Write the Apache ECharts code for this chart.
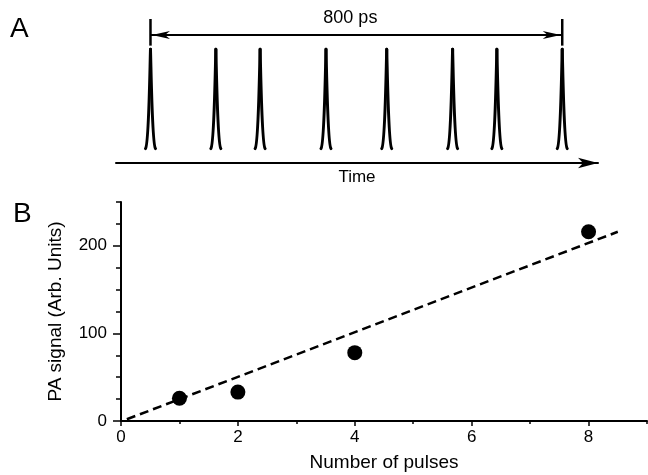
<!DOCTYPE html>
<html>
<head>
<meta charset="utf-8">
<script src="https://cdn.jsdelivr.net/npm/echarts@6/dist/echarts.min.js"></script>
<style>
html, body {margin: 0; padding: 0; background: #fff;}
#chart {width: 648px; height: 475px;}
</style>
</head>
<body>
<div id="chart"></div>
<script>
// panel A: pulse train (time in ps)
const pulseTimes = [0, 127, 213, 341, 459, 587, 673, 800];
const pulsePeak = 0.79;
const pulseBase = 0.1;
const spanStart = 0;
const spanEnd = 800;
const spanLevel = 0.889;
const spanBarLow = 0.815;
const spanBarHigh = 1.0;
const spanLabel = '800 ps';

// panel B: PA signal vs number of pulses
const nPulses = [1, 2, 4, 8];
const paSignal = [26, 33, 78, 216];
const fitX = [0.1, 8.5];
const fitY = [2, 216];
const xTickLabels = [0, 2, 4, 6, 8];
const yTickLabels = [0, 100, 200];

const font = 'Liberation Sans, Arial, Helvetica, sans-serif';

function renderPulse(params, api) {
    let top = api.coord([api.value(0), api.value(1)]);
    let base = api.coord([api.value(0), pulseBase]);
    let cx = top[0];
    let h = base[1] - top[1];
    let side = function (dir) {
        return {
            type: 'bezierCurve',
            shape: {
                x1: cx + dir * 5, y1: base[1],
                cpx1: cx + dir * 1.8, cpy1: base[1] - 4,
                cpx2: cx + dir * 1.0, cpy2: top[1] + h * 0.4,
                x2: cx, y2: top[1]
            },
            style: {stroke: '#000', lineWidth: 3, fill: null, lineCap: 'round'}
        };
    };
    return {type: 'group', children: [side(-1), side(1)]};
}

function renderSpan(params, api) {
    let a = api.coord([api.value(0), api.value(2)]);
    let b = api.coord([api.value(1), api.value(2)]);
    let lo = api.coord([0, spanBarLow])[1];
    let hi = api.coord([0, spanBarHigh])[1];
    let y = a[1];
    let head = function (x, dir) {
        return {
            type: 'polygon',
            shape: {points: [[x, y], [x + dir * 18, y - 4], [x + dir * 13, y], [x + dir * 18, y + 4]]},
            style: {fill: '#000'}
        };
    };
    let bar = function (x) {
        return {type: 'line', shape: {x1: x, y1: lo, x2: x, y2: hi}, style: {stroke: '#000', lineWidth: 2.5}};
    };
    return {
        type: 'group',
        children: [
            {type: 'line', shape: {x1: a[0], y1: y, x2: b[0], y2: y}, style: {stroke: '#000', lineWidth: 2}},
            head(a[0] + 1.5, 1),
            head(b[0] - 1.5, -1),
            bar(a[0]),
            bar(b[0]),
            {
                type: 'text',
                x: (a[0] + b[0]) / 2 - 6,
                y: y - 8,
                style: {text: spanLabel, align: 'center', verticalAlign: 'bottom', fontSize: 18, fontFamily: font, fill: '#000'}
            }
        ]
    };
}

let myChart = echarts.init(document.getElementById('chart'));

let blackLine = {color: '#000', width: 2};
let panelTitle = {fontSize: 28, fontWeight: 'normal', color: '#000', fontFamily: font};

let option = {
    animation: false,
    textStyle: {fontFamily: font, color: '#000'},
    title: [
        {text: 'A', left: 10, top: 15, padding: 0, textStyle: panelTitle},
        {text: 'B', left: 13, top: 200, padding: 0, textStyle: panelTitle}
    ],
    grid: [
        {left: 116, top: 19, width: 482, height: 144, outerBoundsMode: 'none'},
        {left: 121, top: 202, width: 526, height: 219, outerBoundsMode: 'none'}
    ],
    xAxis: [
        {
            gridIndex: 0, type: 'value', min: -67, max: 869.5,
            axisLine: {show: true, symbol: ['none', 'arrow'], symbolSize: [8, 20], lineStyle: blackLine},
            axisTick: {show: false},
            axisLabel: {show: false},
            splitLine: {show: false},
            name: 'Time', nameLocation: 'middle', nameGap: 6,
            nameTextStyle: {fontSize: 17, color: '#000', fontFamily: font}
        },
        {
            // minor ticks
            gridIndex: 1, type: 'value', min: 0, max: 9, interval: 1, position: 'bottom',
            axisLine: {show: true, onZero: false, lineStyle: blackLine},
            axisTick: {show: true, length: 3, lineStyle: {color: '#000', width: 1.5}},
            axisLabel: {show: false},
            splitLine: {show: false}
        },
        {
            // major ticks + labels
            gridIndex: 1, type: 'value', min: 0, max: 9, interval: 1, position: 'bottom',
            axisLine: {show: false, onZero: false},
            axisTick: {show: true, customValues: xTickLabels, length: 5, lineStyle: {color: '#000', width: 1.5}},
            axisLabel: {customValues: xTickLabels, fontSize: 17, color: '#000', margin: 8, fontFamily: font},
            splitLine: {show: false},
            name: 'Number of pulses', nameLocation: 'middle', nameGap: 32,
            nameTextStyle: {fontSize: 19, color: '#000', fontFamily: font}
        }
    ],
    yAxis: [
        {gridIndex: 0, type: 'value', min: 0, max: 1, show: false},
        {
            gridIndex: 1, type: 'value', min: 0, max: 250, interval: 25, position: 'left',
            axisLine: {show: true, onZero: false, lineStyle: blackLine},
            axisTick: {show: true, length: 5, lineStyle: {color: '#000', width: 1.5}},
            axisLabel: {show: false},
            splitLine: {show: false}
        },
        {
            gridIndex: 1, type: 'value', min: 0, max: 250, interval: 25, position: 'left',
            axisLine: {show: false, onZero: false},
            axisTick: {show: true, customValues: yTickLabels, length: 8, lineStyle: {color: '#000', width: 1.5}},
            axisLabel: {customValues: yTickLabels, fontSize: 17, color: '#000', margin: 14, fontFamily: font},
            splitLine: {show: false},
            name: 'PA signal (Arb. Units)', nameLocation: 'middle', nameGap: 56,
            nameTextStyle: {fontSize: 19, color: '#000', fontFamily: font}
        }
    ],
    series: [
        {
            type: 'custom', xAxisIndex: 0, yAxisIndex: 0,
            data: pulseTimes.map(t => [t, pulsePeak]),
            renderItem: renderPulse
        },
        {
            type: 'custom', xAxisIndex: 0, yAxisIndex: 0,
            data: [[spanStart, spanEnd, spanLevel]],
            renderItem: renderSpan
        },
        {
            type: 'line', xAxisIndex: 1, yAxisIndex: 1,
            data: fitX.map((x, i) => [x, fitY[i]]),
            symbol: 'none',
            lineStyle: {color: '#000', width: 2.5, type: [9, 5]}
        },
        {
            type: 'scatter', xAxisIndex: 1, yAxisIndex: 1,
            data: nPulses.map((x, i) => [x, paSignal[i]]),
            symbolSize: 15,
            itemStyle: {color: '#000', opacity: 1}
        }
    ]
};

myChart.setOption(option);
</script>
</body>
</html>
